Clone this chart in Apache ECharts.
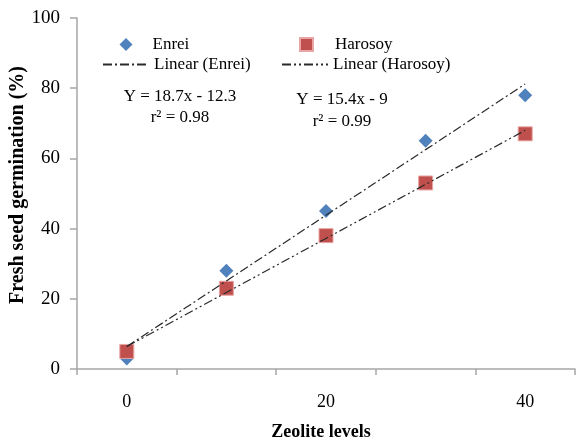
<!DOCTYPE html>
<html>
<head>
<meta charset="utf-8">
<script src="https://cdn.jsdelivr.net/npm/echarts@6/dist/echarts.min.js"></script>
<style>html,body{margin:0;padding:0;background:#fff;}#c{width:579px;height:440px;}</style>
</head>
<body>
<div id="c"></div>
<script>
const categories = ['0', '10', '20', '30', '40'];
const enrei = [3, 28, 45, 65, 78];
const harosoy = [5, 23, 38, 53, 67];
const yTicks = [0, 20, 40, 60, 80, 100];
const eqEnrei = ['Y = 18.7x - 12.3', 'r\u00b2 = 0.98'];
const eqHarosoy = ['Y = 15.4x - 9', 'r\u00b2 = 0.99'];
const xTitle = 'Zeolite levels';
const yTitle = 'Fresh seed germination (%)';

function fitLine(vals) {
  const n = vals.length;
  const xs = vals.map((_, i) => i + 1);
  const mx = xs.reduce((a, b) => a + b, 0) / n;
  const my = vals.reduce((a, b) => a + b, 0) / n;
  let sxy = 0, sxx = 0;
  for (let i = 0; i < n; i++) {
    sxy += (xs[i] - mx) * (vals[i] - my);
    sxx += (xs[i] - mx) * (xs[i] - mx);
  }
  const b = sxy / sxx, a = my - b * mx;
  return xs.map(x => +(a + b * x).toFixed(3));
}

const serif = '"Liberation Serif", "Times New Roman", serif';
const axisGray = '#a6a6a6';
const legText = { fontFamily: serif, fontSize: 17, color: '#000' };

function lineLegend(name, left, top) {
  return {
    data: [{ name: name, itemStyle: { opacity: 0 } }], left: left, top: top, padding: 0,
    itemWidth: 46, itemHeight: 13, textStyle: legText
  };
}
function markLegend(name, left, top, pad) {
  return {
    data: [name], left: left, top: top, padding: 0,
    itemWidth: 13, itemHeight: 13, textStyle: Object.assign({ padding: [0, 0, 0, pad] }, legText)
  };
}

const chart = echarts.init(document.getElementById('c'));
chart.setOption({
  animation: false,
  backgroundColor: '#fff',
  textStyle: { fontFamily: serif },
  grid: { left: 77, right: 4, top: 18, bottom: 71, containLabel: false, outerBoundsMode: 'none' },
  legend: [
    markLegend('Enrei', 119.5, 36, 15),
    markLegend('Harosoy', 299, 36, 17),
    lineLegend('Linear (Enrei)', 102, 56),
    lineLegend('Linear (Harosoy)', 281, 56)
  ],
  xAxis: {
    type: 'category', data: categories, boundaryGap: true,
    name: xTitle, nameLocation: 'middle', nameGap: 54, nameMoveOverlap: false,
    nameTextStyle: { fontFamily: serif, fontSize: 18, fontWeight: 'bold', color: '#000', padding: [0, 10, 0, 0] },
    axisLine: { lineStyle: { color: axisGray, width: 1.5 } },
    axisTick: { show: true, interval: 0, length: 6, lineStyle: { color: axisGray, width: 1.5 } },
    axisLabel: { interval: 1, margin: 24, fontSize: 18, color: '#000', fontFamily: serif },
    splitLine: { show: false }
  },
  yAxis: {
    type: 'value', min: 0, max: 100, interval: 20,
    axisLine: { show: true, lineStyle: { color: axisGray, width: 1.5 } },
    axisTick: { show: true, length: 7, lineStyle: { color: axisGray, width: 1.5 } },
    axisLabel: { margin: 17, fontSize: 19, color: '#000', fontFamily: serif,
      formatter: v => yTicks.includes(v) ? String(v) : '' },
    splitLine: { show: false }
  },
  series: [
    {
      name: 'Linear (Enrei)', type: 'line', data: fitLine(enrei), symbol: 'none', z: 3,
      lineStyle: { color: '#2a2a2a', width: 1.2, type: [9, 3, 2, 3] }, itemStyle: { color: '#2a2a2a' }
    },
    {
      name: 'Linear (Harosoy)', type: 'line', data: fitLine(harosoy), symbol: 'none', z: 3,
      lineStyle: { color: '#2a2a2a', width: 1.2, type: [9, 3, 2, 3, 2, 3] }, itemStyle: { color: '#2a2a2a' }
    },
    {
      name: 'Enrei', type: 'scatter', data: enrei, symbol: 'diamond', symbolSize: 14, z: 2,
      itemStyle: { color: '#4F81BD', opacity: 1 }
    },
    {
      name: 'Harosoy', type: 'scatter', data: harosoy, symbol: 'rect', symbolSize: 14, z: 2,
      itemStyle: { color: '#C0504D', borderColor: '#e8a5a3', borderWidth: 1, opacity: 1 }
    }
  ],
  graphic: [
    { type: 'text', x: 18, y: 185, rotation: Math.PI / 2, style: { text: yTitle, font: 'bold 20px ' + serif, fill: '#000', align: 'center', verticalAlign: 'middle' } },
    { type: 'text', x: 180, y: 97, style: { text: eqEnrei[0], font: '17px ' + serif, fill: '#000', align: 'center', verticalAlign: 'middle' } },
    { type: 'text', x: 180, y: 118, style: { text: eqEnrei[1], font: '17px ' + serif, fill: '#000', align: 'center', verticalAlign: 'middle' } },
    { type: 'text', x: 342, y: 100, style: { text: eqHarosoy[0], font: '17px ' + serif, fill: '#000', align: 'center', verticalAlign: 'middle' } },
    { type: 'text', x: 342, y: 122, style: { text: eqHarosoy[1], font: '17px ' + serif, fill: '#000', align: 'center', verticalAlign: 'middle' } }
  ]
});
</script>
</body>
</html>
